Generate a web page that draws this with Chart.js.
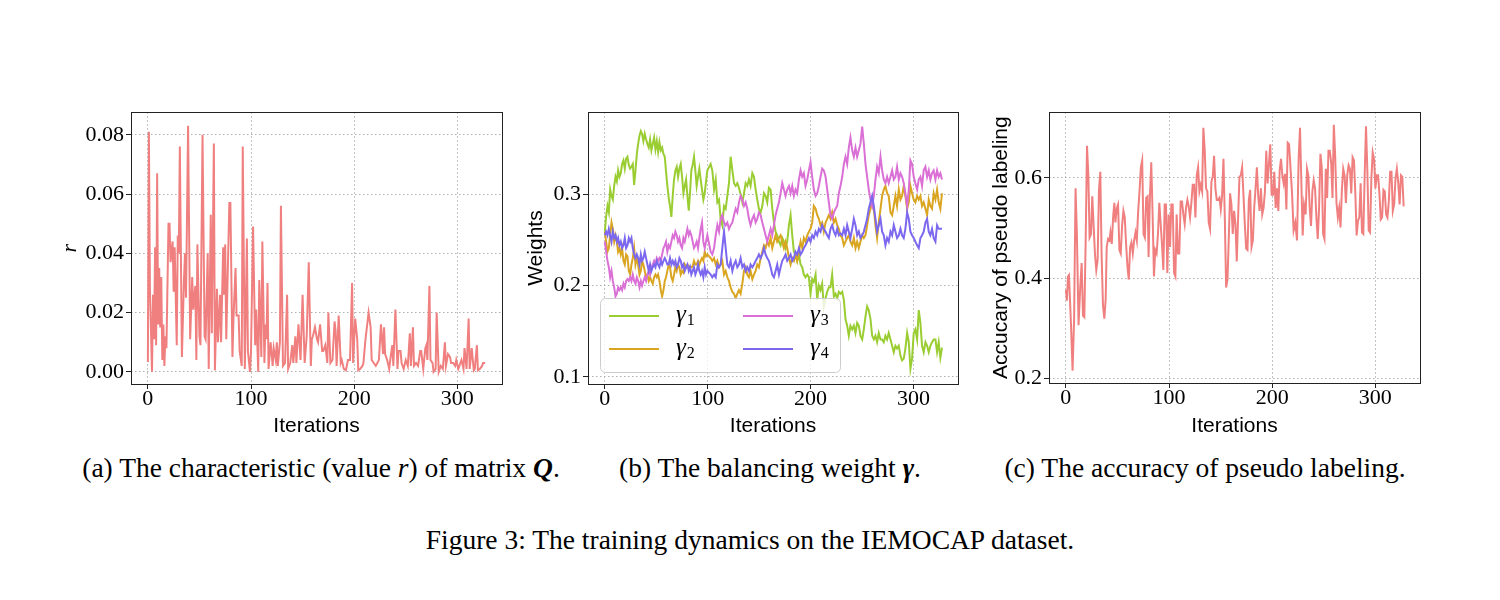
<!DOCTYPE html>
<html>
<head>
<meta charset="utf-8">
<script src="https://cdn.jsdelivr.net/npm/chart.js@4.4.1/dist/chart.umd.min.js"></script>
<style>
    html, body { margin: 0; padding: 0; background: #fff; }
    #figura { position: relative; width: 1500px; height: 600px; overflow: hidden; }
    canvas { position: absolute; }
    .cap { position: absolute; font-family: 'Liberation Serif', 'Times New Roman', serif; font-size: 27.5px; line-height: 32px; color: #000; text-align: center; white-space: nowrap; }
</style>
</head>
<body>
<div id="figura">
    <canvas id="graficoR" width="470" height="350" style="left:40px; top:97px;"></canvas>
    <canvas id="graficoPesos" width="450" height="350" style="left:515px; top:97px;"></canvas>
    <canvas id="graficoPrecision" width="455" height="350" style="left:975px; top:97px;"></canvas>
    <div class="cap" style="left:21px; width:600px; top:452px;">(a) The characteristic (value <i>r</i>) of matrix <b><i>Q</i></b>.</div>
    <div class="cap" style="left:470px; width:600px; top:452px;">(b) The balancing weight <b><i>γ</i></b>.</div>
    <div class="cap" style="left:905px; width:600px; top:452px;">(c) The accuracy of pseudo labeling.</div>
    <div class="cap" style="left:0; width:1500px; top:524px;">Figure 3: The training dynamics on the IEMOCAP dataset.</div>
</div>
<script>
// (a) valor r de la matriz Q
const iterR = [0, 1, 2, 4, 5, 6, 7, 8, 9, 10, 11, 12, 13, 14, 15, 16, 17, 18, 20, 21, 22, 24, 25, 26, 28, 29, 30, 31, 33, 35, 36, 37, 39, 41, 43, 44, 46, 47, 48, 50, 51, 53, 55, 56, 58, 59, 61, 62, 64, 65, 67, 68, 70, 71, 73, 74, 75, 76, 79, 80, 82, 83, 85, 86, 88, 89, 91, 92, 94, 96, 97, 99,
    100, 102, 104, 105, 107, 108, 110, 111, 113, 114, 115, 116, 117, 119, 121, 122, 124, 125, 126, 128, 129, 131, 133, 135, 136, 138, 140, 141, 143, 144, 146, 148, 150, 152, 154, 156, 158, 159, 160, 162, 164, 165, 167, 169, 170, 172, 174, 175, 177, 179, 181, 182, 183, 185, 187, 188, 190, 192, 194, 196, 198, 199,
    201, 203, 204, 206, 208, 209, 211, 212, 214, 216, 217, 219, 221, 224, 226, 228, 229, 230, 232, 234, 235, 237, 238, 240, 242, 243, 245, 246, 248, 250, 252, 254, 255, 257, 258, 260, 262, 264, 265, 267, 269, 270, 271, 273, 274, 276, 277, 279, 280, 282, 284, 286, 288, 289, 291, 293, 294, 296, 298, 299,
    301, 303, 304, 306, 307, 309, 311, 312, 314, 316, 317, 319, 320, 322, 324, 325, 327];
const valoresR = [0.0033, 0.081, 0.028, 0.000, 0.026, 0.011, 0.042, 0.009, 0.067, 0.016, 0.035, 0.015, 0.032, 0.004, 0.016, 0.002, 0.012, 0.008, 0.050, 0.050, 0.037, 0.044, 0.027, 0.042, 0.009, 0.046, 0.040, 0.076, 0.005, 0.031, 0.040, 0.025, 0.083, 0.011, 0.032, 0.021, 0.029, 0.004, 0.043, 0.012, 0.009, 0.080, 0.012, 0.011, 0.040, 0.001, 0.053, 0.013, 0.077, 0.0005, 0.028, 0.010, 0.026, 0.010, 0.042, 0.026, 0.043, 0.011, 0.057, 0.057, 0.005, 0.018, 0.035, 0.019, 0.019, 0.007, 0.002, 0.076, 0.001, 0.045, 0.007, 0.000,
    0.007, 0.049, 0.009, 0.021, 0.000, 0.031, 0.005, 0.044, 0.003, 0.016, 0.011, 0.030, 0.001, 0.010, 0.002, 0.008, 0.004, 0.010, 0.002, 0.010, 0.056, 0.002, 0.003, 0.026, 0.001, 0.003, 0.009, 0.003, 0.012, 0.003, 0.016, 0.004, 0.026, 0.003, 0.012, 0.037, 0.002, 0.011, 0.012, 0.015, 0.011, 0.010, 0.016, 0.007, 0.007, 0.009, 0.003, 0.020, 0.003, 0.004, 0.017, 0.014, 0.002, 0.019, 0.003, 0.004, 0.001, 0.0005, 0.004, 0.004, 0.030, 0.003,
    0.018, 0.011, 0.0005, 0.001, 0.002, 0.003, 0.011, 0.014, 0.020, 0.015, 0.004, 0.003, 0.002, 0.004, 0.016, 0.006, 0.015, 0.006, 0.004, 0.001, 0.004, 0.009, 0.002, 0.021, 0.001, 0.007, 0.007, 0.003, 0.001, 0.004, 0.002, 0.013, 0.002, 0.015, 0.002, 0.003, 0.002, 0.007, 0.007, 0.001, 0.008, 0.009, 0.004, 0.029, 0.004, 0.003, 0.000, 0.001, 0.020, 0.000, 0.002, 0.001, 0.010, 0.002, 0.006, 0.005, 0.003, 0.003, 0.002, 0.004,
    0.001, 0.003, 0.004, 0.001, 0.008, 0.001, 0.018, 0.001, 0.008, 0.0005, 0.001, 0.009, 0.0005, 0.001, 0.002, 0.003, 0.003];

// (b) pesos de balance gamma
const iterPesos = [0, 1.3, 2.6, 3.9, 5.2, 6.5, 7.8, 9.1, 10.4, 11.7, 12.9, 14.2, 15.5, 16.8, 18.1, 19.4, 20.7, 22, 23.3, 24.6, 25.9, 27.2, 28.5, 29.8, 31.1, 32.4, 33.7, 35, 36.2, 37.5, 38.8, 40.1, 41.4, 42.7, 44, 45.3, 46.6, 47.9, 49.2, 50.5, 51.8, 53.1, 54.4, 55.7, 57, 58.3, 59.5, 60.8, 62.1, 63.4, 64.7, 66, 67.3, 68.6, 69.9, 71.2, 72.5, 73.8, 75.1, 76.4, 77.7, 79, 80.3, 81.6, 82.8, 84.1, 85.4, 86.7, 88, 89.3, 90.6, 91.9, 93.2, 94.5, 95.8, 97.1, 98.4, 99.7,
    102.9, 104.5, 106.2, 107.8, 109.4, 111, 112.6, 114.2, 115.9, 117.5, 119.1, 120.7, 122.3, 124, 125.6, 127.2, 128.8, 130.4, 132, 133.7, 135.3, 136.9, 138.5, 140.1, 141.7, 143.4, 145, 146.6, 148.2, 149.8, 151.5, 153.1, 154.7, 156.3, 157.9, 159.5, 161.2, 162.8, 164.4, 166, 167.6, 169.3, 170.9, 172.5, 174.1, 175.7, 177.3, 179, 180.6, 182.2, 183.8, 185.4, 187, 188.7, 190.3, 191.9, 193.5, 195.1, 196.8, 198.4, 200, 201.6, 203.2, 204.9, 206.5, 208.1, 209.7, 211.3, 212.9, 214.6, 216.2, 217.8,
    219.4, 221, 222.7, 224.3, 225.9, 227.5, 229.1, 230.8, 232.4, 234, 235.6, 237.2, 238.8, 240.5, 242.1, 243.7, 245.3, 246.9, 248.5, 250.2, 251.8, 253.4, 255, 256.6, 258.3, 259.9, 261.5, 263.1, 264.7, 266.3, 268, 269.6, 271.2, 272.8, 274.4, 276, 277.7, 279.3, 280.9, 282.5, 284.1, 285.8, 287.4, 289, 290.6, 292.2, 293.9, 295.5, 297.1, 298.7, 300.3, 301.9, 303.6, 305.2, 306.8, 308.4, 310, 311.7, 313.3, 314.9, 316.5, 318.1, 319.7, 321.4, 323, 324.6, 326.2, 327.8];
const gamma1 = [0.259, 0.276, 0.287, 0.280, 0.305, 0.298, 0.294, 0.309, 0.319, 0.314, 0.326, 0.319, 0.323, 0.333, 0.337, 0.328, 0.339, 0.341, 0.332, 0.328, 0.330, 0.333, 0.310, 0.326, 0.344, 0.355, 0.364, 0.369, 0.366, 0.358, 0.366, 0.360, 0.355, 0.351, 0.360, 0.348, 0.355, 0.362, 0.349, 0.358, 0.346, 0.357, 0.348, 0.351, 0.344, 0.341, 0.325, 0.309, 0.296, 0.287, 0.275, 0.298, 0.316, 0.326, 0.330, 0.319, 0.328, 0.333, 0.319, 0.301, 0.309, 0.316, 0.298, 0.282, 0.301, 0.326, 0.332, 0.341, 0.326, 0.309, 0.319, 0.328, 0.316, 0.305, 0.294, 0.301, 0.314, 0.326,
    0.333, 0.326, 0.305, 0.316, 0.291, 0.294, 0.273, 0.266, 0.287, 0.284, 0.298, 0.312, 0.341, 0.326, 0.312, 0.309, 0.312, 0.307, 0.300, 0.291, 0.301, 0.312, 0.309, 0.316, 0.309, 0.323, 0.319, 0.305, 0.294, 0.284, 0.280, 0.287, 0.301, 0.298, 0.291, 0.307, 0.305, 0.284, 0.269, 0.259, 0.255, 0.248, 0.244, 0.252, 0.248, 0.241, 0.248, 0.266, 0.277, 0.255, 0.237, 0.234, 0.227, 0.234, 0.223, 0.220, 0.212, 0.209, 0.212, 0.209, 0.191, 0.207, 0.204, 0.212, 0.184, 0.200, 0.195, 0.202, 0.177, 0.186, 0.193, 0.198,
    0.198, 0.212, 0.188, 0.191, 0.186, 0.193, 0.191, 0.193, 0.184, 0.163, 0.156, 0.145, 0.156, 0.152, 0.156, 0.148, 0.159, 0.156, 0.145, 0.141, 0.152, 0.166, 0.177, 0.173, 0.163, 0.145, 0.141, 0.145, 0.138, 0.148, 0.141, 0.141, 0.138, 0.145, 0.141, 0.148, 0.141, 0.134, 0.127, 0.134, 0.131, 0.134, 0.123, 0.118, 0.120, 0.131, 0.148, 0.138, 0.109, 0.120, 0.148, 0.152, 0.141, 0.173, 0.159, 0.134, 0.127, 0.138, 0.134, 0.127, 0.134, 0.138, 0.141, 0.141, 0.127, 0.138, 0.121, 0.132];
const gamma2 = [0.259, 0.248, 0.237, 0.241, 0.255, 0.269, 0.262, 0.248, 0.255, 0.248, 0.237, 0.241, 0.234, 0.241, 0.227, 0.223, 0.234, 0.232, 0.216, 0.212, 0.223, 0.230, 0.241, 0.223, 0.230, 0.223, 0.212, 0.216, 0.227, 0.223, 0.216, 0.209, 0.212, 0.205, 0.209, 0.205, 0.202, 0.209, 0.212, 0.209, 0.212, 0.205, 0.195, 0.188, 0.195, 0.205, 0.209, 0.216, 0.223, 0.220, 0.209, 0.205, 0.212, 0.220, 0.216, 0.223, 0.220, 0.212, 0.216, 0.214, 0.223, 0.220, 0.223, 0.220, 0.221, 0.220, 0.221, 0.227, 0.223, 0.223, 0.227, 0.223, 0.227, 0.230, 0.227, 0.237, 0.232, 0.234,
    0.230, 0.227, 0.230, 0.223, 0.227, 0.220, 0.223, 0.227, 0.212, 0.216, 0.209, 0.205, 0.198, 0.193, 0.191, 0.186, 0.191, 0.195, 0.191, 0.202, 0.216, 0.220, 0.212, 0.209, 0.216, 0.207, 0.212, 0.216, 0.223, 0.220, 0.230, 0.237, 0.244, 0.241, 0.248, 0.244, 0.252, 0.241, 0.248, 0.255, 0.248, 0.252, 0.255, 0.248, 0.241, 0.248, 0.241, 0.230, 0.223, 0.230, 0.227, 0.234, 0.227, 0.237, 0.248, 0.241, 0.252, 0.248, 0.255, 0.259, 0.262, 0.269, 0.287, 0.284, 0.277, 0.273, 0.266, 0.269, 0.259, 0.269, 0.273, 0.277,
    0.273, 0.280, 0.269, 0.273, 0.266, 0.262, 0.255, 0.252, 0.244, 0.248, 0.252, 0.255, 0.248, 0.244, 0.252, 0.241, 0.248, 0.241, 0.248, 0.255, 0.252, 0.255, 0.266, 0.277, 0.284, 0.294, 0.284, 0.266, 0.252, 0.269, 0.284, 0.298, 0.305, 0.309, 0.301, 0.298, 0.280, 0.277, 0.287, 0.298, 0.287, 0.305, 0.294, 0.298, 0.309, 0.298, 0.284, 0.291, 0.309, 0.301, 0.294, 0.291, 0.298, 0.294, 0.298, 0.287, 0.291, 0.284, 0.277, 0.294, 0.287, 0.284, 0.301, 0.294, 0.305, 0.291, 0.284, 0.301];
const gamma3 = [0.248, 0.237, 0.227, 0.220, 0.209, 0.216, 0.205, 0.198, 0.188, 0.191, 0.198, 0.195, 0.198, 0.195, 0.202, 0.198, 0.205, 0.207, 0.205, 0.209, 0.205, 0.212, 0.205, 0.202, 0.209, 0.205, 0.198, 0.205, 0.200, 0.205, 0.209, 0.205, 0.212, 0.216, 0.212, 0.220, 0.223, 0.227, 0.223, 0.230, 0.227, 0.230, 0.227, 0.234, 0.241, 0.244, 0.248, 0.237, 0.244, 0.241, 0.248, 0.255, 0.252, 0.259, 0.255, 0.248, 0.252, 0.244, 0.241, 0.252, 0.248, 0.255, 0.262, 0.255, 0.259, 0.255, 0.248, 0.241, 0.244, 0.248, 0.241, 0.252, 0.262, 0.269, 0.248, 0.241, 0.248, 0.255,
    0.237, 0.234, 0.241, 0.255, 0.266, 0.259, 0.273, 0.277, 0.269, 0.266, 0.269, 0.262, 0.266, 0.269, 0.277, 0.284, 0.280, 0.291, 0.298, 0.294, 0.287, 0.291, 0.284, 0.273, 0.266, 0.273, 0.277, 0.269, 0.273, 0.280, 0.277, 0.269, 0.262, 0.255, 0.248, 0.255, 0.262, 0.255, 0.266, 0.277, 0.284, 0.291, 0.301, 0.312, 0.305, 0.298, 0.305, 0.309, 0.301, 0.309, 0.298, 0.305, 0.301, 0.316, 0.326, 0.319, 0.323, 0.309, 0.316, 0.326, 0.335, 0.319, 0.305, 0.298, 0.301, 0.309, 0.319, 0.328, 0.326, 0.319, 0.305, 0.291,
    0.277, 0.273, 0.280, 0.284, 0.287, 0.301, 0.309, 0.319, 0.333, 0.341, 0.333, 0.351, 0.362, 0.348, 0.341, 0.351, 0.341, 0.348, 0.355, 0.374, 0.355, 0.333, 0.319, 0.305, 0.294, 0.287, 0.298, 0.316, 0.330, 0.323, 0.341, 0.326, 0.316, 0.312, 0.319, 0.312, 0.319, 0.326, 0.316, 0.319, 0.330, 0.316, 0.323, 0.319, 0.312, 0.301, 0.287, 0.305, 0.337, 0.333, 0.319, 0.312, 0.305, 0.316, 0.319, 0.309, 0.326, 0.330, 0.319, 0.326, 0.316, 0.323, 0.326, 0.316, 0.326, 0.319, 0.323, 0.316];
const gamma4 = [0.255, 0.259, 0.255, 0.262, 0.255, 0.248, 0.259, 0.252, 0.255, 0.248, 0.252, 0.244, 0.248, 0.241, 0.244, 0.252, 0.241, 0.244, 0.252, 0.248, 0.252, 0.241, 0.234, 0.230, 0.234, 0.230, 0.223, 0.234, 0.227, 0.230, 0.237, 0.230, 0.223, 0.216, 0.223, 0.216, 0.220, 0.223, 0.220, 0.227, 0.223, 0.220, 0.227, 0.223, 0.227, 0.230, 0.227, 0.223, 0.223, 0.230, 0.223, 0.227, 0.223, 0.227, 0.220, 0.223, 0.230, 0.227, 0.220, 0.223, 0.216, 0.220, 0.223, 0.216, 0.220, 0.212, 0.216, 0.220, 0.212, 0.216, 0.223, 0.216, 0.212, 0.216, 0.209, 0.220, 0.212, 0.216,
    0.212, 0.209, 0.212, 0.209, 0.223, 0.220, 0.223, 0.241, 0.259, 0.241, 0.223, 0.220, 0.227, 0.216, 0.223, 0.227, 0.220, 0.223, 0.230, 0.220, 0.223, 0.216, 0.220, 0.216, 0.223, 0.220, 0.223, 0.227, 0.230, 0.234, 0.230, 0.234, 0.241, 0.234, 0.230, 0.227, 0.220, 0.212, 0.209, 0.216, 0.223, 0.212, 0.220, 0.227, 0.230, 0.234, 0.227, 0.230, 0.234, 0.227, 0.230, 0.237, 0.234, 0.241, 0.234, 0.237, 0.241, 0.244, 0.248, 0.252, 0.248, 0.255, 0.252, 0.259, 0.255, 0.262, 0.259, 0.266, 0.262, 0.259, 0.255, 0.252,
    0.262, 0.266, 0.259, 0.255, 0.262, 0.255, 0.257, 0.255, 0.262, 0.255, 0.266, 0.259, 0.252, 0.262, 0.273, 0.266, 0.255, 0.259, 0.252, 0.255, 0.259, 0.266, 0.273, 0.284, 0.291, 0.298, 0.287, 0.273, 0.259, 0.266, 0.273, 0.259, 0.255, 0.244, 0.252, 0.248, 0.259, 0.255, 0.266, 0.259, 0.252, 0.255, 0.262, 0.255, 0.252, 0.262, 0.280, 0.273, 0.259, 0.255, 0.252, 0.248, 0.244, 0.241, 0.252, 0.255, 0.259, 0.269, 0.273, 0.259, 0.255, 0.262, 0.252, 0.248, 0.266, 0.262, 0.262, 0.262];

// (c) precision del pseudo etiquetado
const iterPrecision = [0, 1, 2, 3, 5, 6.5, 8, 9.4, 10.7, 12.3, 14, 15.3, 16.6, 17.9, 19.2, 20.5, 21.8, 23, 24.4, 25.6, 27, 28.2, 29.5, 30.8, 32.1, 33.4, 34.7, 36, 37.3, 38.6, 39.6, 40.9, 42.2, 43.2, 44.5, 45.8, 47, 48, 49.4, 50.6, 51.9, 53.2, 54.5, 55.8, 57.1, 58.4, 59.7, 61, 62.3, 63.6, 64.9, 66.2, 67.5, 68.8, 70.1, 71.4, 72.7, 74, 75.3, 76.6, 77.9, 79.2, 80.2, 81.5, 82.8, 84.1, 85.4, 86.7, 88, 89.3, 90.6, 91.9, 93.2, 94.5, 95.8, 97.1, 98.4, 99.7,
    101, 102.3, 103.6, 104.9, 106.2, 107.4, 108.7, 110, 111.3, 112.6, 113.9, 115.2, 116.5, 117.8, 119.1, 120.4, 121.7, 123, 124.3, 125.6, 126.9, 128.2, 129.5, 130.8, 132.1, 133.3, 134.6, 135.9, 137.2, 138.5, 139.8, 141.1, 142.4, 143.7, 145, 146.3, 147.6, 148.9, 150.2, 151.5, 152.8, 154.1, 155.4, 156.7, 158, 159.2, 160.5, 161.8, 163.1, 164.4, 165.7, 167, 168.3, 169.6, 170.9, 172.2, 173.5, 174.8, 176.1, 177.4, 178.7, 180, 181.3, 182.6, 183.9, 185.2, 186.5, 187.8, 189.1, 190.4, 191.7, 193, 194.3, 195.6, 196.9, 198.2, 199.5, 200.8, 202.1, 203.4, 204.7, 206, 207.3, 208.6, 209.9, 211.2, 212.5, 213.8, 215.1, 216.4,
    219.2, 220.8, 222.4, 224.1, 225.7, 227, 228.3, 229.6, 230.9, 232.5, 233.8, 235.1, 236.4, 237.7, 239, 240.3, 241.6, 242.9, 244.2, 245.5, 246.8, 248.1, 249.4, 250.7, 252, 253.3, 254.6, 255.9, 257.2, 258.5, 259.8, 261.1, 262.4, 263.7, 265, 266.3, 267.6, 268.9, 270.2, 271.5, 272.8, 274.1, 275.4, 276.7, 278, 279.3, 280.6, 281.9, 283.2, 284.5, 285.8, 287.1, 288.4, 289.7, 291, 292.3, 293.6, 294.9, 296.2, 297.5, 298.8, 300.1, 301.4, 302.7, 304, 305.3, 306.6, 307.9, 309.2, 310.5, 311.8, 313.1, 314.4, 315.7, 317, 318.3, 319.6, 320.9, 322.3, 323.6, 324.9, 326.2, 327.5];
const valoresPrecision = [0.377, 0.355, 0.403, 0.406, 0.306, 0.215, 0.319, 0.579, 0.488, 0.306, 0.384, 0.430, 0.325, 0.322, 0.475, 0.664, 0.605, 0.481, 0.488, 0.563, 0.501, 0.449, 0.416, 0.436, 0.576, 0.612, 0.442, 0.345, 0.319, 0.358, 0.462, 0.478, 0.475, 0.491, 0.468, 0.521, 0.550, 0.511, 0.540, 0.547, 0.456, 0.449, 0.504, 0.534, 0.521, 0.468, 0.423, 0.397, 0.462, 0.471, 0.449, 0.475, 0.491, 0.475, 0.534, 0.573, 0.621, 0.635, 0.488, 0.481, 0.560, 0.563, 0.442, 0.563, 0.631, 0.527, 0.403, 0.456, 0.449, 0.488, 0.550, 0.508, 0.468, 0.416, 0.547, 0.547, 0.410, 0.527,
    0.462, 0.547, 0.547, 0.410, 0.403, 0.527, 0.449, 0.449, 0.553, 0.553, 0.527, 0.508, 0.540, 0.556, 0.543, 0.521, 0.550, 0.586, 0.586, 0.521, 0.605, 0.621, 0.573, 0.586, 0.573, 0.700, 0.657, 0.579, 0.573, 0.511, 0.498, 0.592, 0.602, 0.644, 0.579, 0.556, 0.556, 0.560, 0.537, 0.566, 0.638, 0.521, 0.381, 0.397, 0.481, 0.569, 0.547, 0.488, 0.534, 0.508, 0.433, 0.521, 0.602, 0.605, 0.621, 0.566, 0.508, 0.459, 0.456, 0.556, 0.576, 0.462, 0.475, 0.540, 0.579, 0.621, 0.563, 0.534, 0.579, 0.527, 0.540, 0.573, 0.654, 0.589, 0.628, 0.667, 0.566, 0.566, 0.612, 0.540, 0.579, 0.534, 0.615, 0.638, 0.605, 0.589, 0.608, 0.537, 0.670, 0.667,
    0.573, 0.495, 0.511, 0.475, 0.638, 0.700, 0.592, 0.485, 0.547, 0.527, 0.618, 0.605, 0.540, 0.504, 0.573, 0.595, 0.579, 0.521, 0.478, 0.540, 0.648, 0.621, 0.488, 0.478, 0.618, 0.560, 0.654, 0.654, 0.631, 0.560, 0.706, 0.644, 0.550, 0.521, 0.540, 0.501, 0.576, 0.618, 0.605, 0.550, 0.605, 0.625, 0.618, 0.569, 0.641, 0.635, 0.573, 0.485, 0.514, 0.521, 0.589, 0.491, 0.488, 0.605, 0.703, 0.615, 0.495, 0.491, 0.599, 0.651, 0.638, 0.579, 0.605, 0.605, 0.569, 0.517, 0.521, 0.576, 0.573, 0.527, 0.521, 0.553, 0.612, 0.612, 0.534, 0.547, 0.599, 0.618, 0.589, 0.547, 0.605, 0.602, 0.543];

const ticksIteraciones = [0, 100, 200, 300];
const ticksR = [0, 0.02, 0.04, 0.06, 0.08];
const ticksPesos = [0.1, 0.2, 0.3];
const ticksPrecision = [0.2, 0.4, 0.6];
const nombresGamma = ['1', '2', '3', '4'];
const coloresGamma = ['#9acd32', '#daa520', '#da70d6', '#7b68ee'];

const fuenteTicks = { family: "'Liberation Serif', 'DejaVu Serif', serif", size: 22 };
const fuenteTitulo = { family: "'Liberation Sans', 'DejaVu Sans', sans-serif", size: 21 };

function aPuntos(xs, ys) {
    return xs.map((x, i) => ({ x: x, y: ys[i] }));
}

// en v4 el trazo punteado de la rejilla sale de border.dash; el marco lo pinta marcoEjes
const rejilla = { color: '#b0b0b0', lineWidth: 1, tickColor: '#222', tickLength: 5, tickWidth: 1, tickBorderDash: [] };
const bordeEje = { display: false, dash: [1.5, 2.5] };

function ejeIteraciones(altura) {
    return {
        type: 'linear',
        min: -16.35,
        max: 343.35,
        afterBuildTicks: (scale) => { scale.ticks = ticksIteraciones.map((v) => ({ value: v })); },
        afterFit: (scale) => { scale.height = altura; },
        ticks: { font: fuenteTicks, color: '#000', padding: -3, autoSkip: false, maxRotation: 0, callback: (v) => String(v) },
        grid: rejilla,
        border: bordeEje,
        title: { display: true, text: 'Iterations', font: fuenteTitulo, color: '#000', padding: { top: 0, bottom: 8 } }
    };
}

function ejeValores(min, max, valores, decimales, ancho, titulo, fuente, padTitulo) {
    return {
        type: 'linear',
        min: min,
        max: max,
        afterBuildTicks: (scale) => { scale.ticks = valores.map((v) => ({ value: v })); },
        afterFit: (scale) => { scale.width = ancho; },
        ticks: { font: fuenteTicks, color: '#000', padding: 2, autoSkip: false, callback: (v) => Number(v).toFixed(decimales) },
        grid: rejilla,
        border: bordeEje,
        title: { display: true, text: titulo, font: fuente, color: '#000', padding: { top: padTitulo, bottom: 0 } }
    };
}

// matplotlib dibuja los cuatro bordes del eje
const marcoEjes = {
    id: 'marcoEjes',
    afterDraw(chart) {
        const { ctx, chartArea: a } = chart;
        ctx.save();
        ctx.strokeStyle = '#222';
        ctx.lineWidth = 1;
        ctx.setLineDash([]);
        ctx.strokeRect(Math.round(a.left) + 0.5, Math.round(a.top) + 0.5, Math.round(a.right - a.left), Math.round(a.bottom - a.top));
        ctx.restore();
    }
};

// leyenda de dos columnas (gamma1, gamma2 | gamma3, gamma4)
const leyendaGamma = {
    id: 'leyendaGamma',
    afterDatasetsDraw(chart) {
        const { ctx, chartArea: a } = chart;
        const x0 = a.left + 12;
        const y0 = a.bottom - 86;
        ctx.save();
        ctx.setLineDash([]);
        ctx.beginPath();
        ctx.roundRect(x0 + 0.5, y0 + 0.5, 240, 74, 5);
        ctx.fillStyle = 'rgba(255,255,255,0.8)';
        ctx.fill();
        ctx.strokeStyle = '#cccccc';
        ctx.lineWidth = 1;
        ctx.stroke();
        nombresGamma.forEach((sub, i) => {
            const col = Math.floor(i / 2);
            const fila = i % 2;
            const lx = x0 + 9 + col * 134;
            const ly = y0 + 18 + fila * 33;
            ctx.strokeStyle = coloresGamma[i];
            ctx.lineWidth = 2;
            ctx.beginPath();
            ctx.moveTo(lx, ly);
            ctx.lineTo(lx + 50, ly);
            ctx.stroke();
            ctx.fillStyle = '#000';
            ctx.textBaseline = 'middle';
            ctx.textAlign = 'left';
            ctx.font = "italic 25px 'Liberation Serif', 'DejaVu Serif', serif";
            ctx.fillText('γ', lx + 67, ly - 1);
            const anchoG = ctx.measureText('γ').width;
            ctx.font = "16px 'Liberation Serif', 'DejaVu Serif', serif";
            ctx.fillText(sub, lx + 67 + anchoG + 1, ly + 5);
        });
        ctx.restore();
    }
};

function opcionesBase(relleno, escalas) {
    return {
        responsive: false,
        animation: false,
        devicePixelRatio: 1,
        layout: { padding: relleno },
        plugins: { legend: { display: false }, tooltip: { enabled: false } },
        elements: { point: { radius: 0 }, line: { tension: 0, borderWidth: 2 } },
        scales: escalas
    };
}

new Chart(document.getElementById('graficoR'), {
    type: 'line',
    data: { datasets: [{ data: aPuntos(iterR, valoresR), borderColor: '#f08080', borderWidth: 2, fill: false }] },
    options: opcionesBase({ top: 10, right: 8, bottom: 0, left: 0 }, {
        x: ejeIteraciones(63),
        y: ejeValores(-0.0041, 0.0876, ticksR, 2, 91, 'r', { family: "'Liberation Serif', 'DejaVu Serif', serif", size: 22, style: 'italic' }, 17)
    }),
    plugins: [marcoEjes]
});

new Chart(document.getElementById('graficoPesos'), {
    type: 'line',
    data: {
        datasets: [gamma1, gamma2, gamma3, gamma4].map((serie, i) => ({
            data: aPuntos(iterPesos, serie),
            borderColor: coloresGamma[i],
            borderWidth: 2,
            fill: false,
            order: 4 - i
        }))
    },
    options: opcionesBase({ top: 10, right: 7, bottom: 0, left: 0 }, {
        x: ejeIteraciones(63),
        y: ejeValores(0.0922, 0.3897, ticksPesos, 1, 73, 'Weights', fuenteTitulo, 9)
    }),
    plugins: [marcoEjes, leyendaGamma]
});

new Chart(document.getElementById('graficoPrecision'), {
    type: 'line',
    data: { datasets: [{ data: aPuntos(iterPrecision, valoresPrecision), borderColor: '#f08080', borderWidth: 2, fill: false }] },
    options: opcionesBase({ top: 10, right: 10, bottom: 0, left: 0 }, {
        x: ejeIteraciones(64),
        y: ejeValores(0.1905, 0.731, ticksPrecision, 1, 74, 'Accucary of pseudo labeling', fuenteTitulo, 14)
    }),
    plugins: [marcoEjes]
});
</script>
</body>
</html>
